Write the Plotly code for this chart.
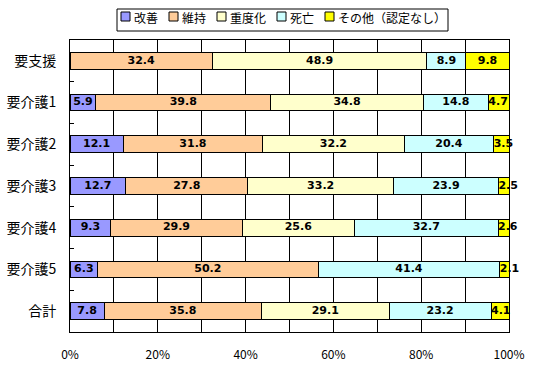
import plotly.graph_objects as go

categories = ['要支援', '要介護1', '要介護2', '要介護3', '要介護4', '要介護5', '合計']
series_names = ['改善', '維持', '重度化', '死亡', 'その他（認定なし）']
kaizen = [None, 5.9, 12.1, 12.7, 9.3, 6.3, 7.8]
iji = [32.4, 39.8, 31.8, 27.8, 29.9, 50.2, 35.8]
judoka = [48.9, 34.8, 32.2, 33.2, 25.6, None, 29.1]
shibo = [8.9, 14.8, 20.4, 23.9, 32.7, 41.4, 23.2]
sonota = [9.8, 4.7, 3.5, 2.5, 2.6, 2.1, 4.1]
x_tickvals = [0, 20, 40, 60, 80, 100]
x_ticktext = ['0%', '20%', '40%', '60%', '80%', '100%']

series = [kaizen, iji, judoka, shibo, sonota]
colors = ['#9999FF', '#FFCC99', '#FFFFCC', '#CCFFFF', '#FFFF00']

# plot area in pixels
W, H = 534, 366
L, R, T, B = 70, 25, 40, 34
PW, PH = W - L - R, H - T - B

fig = go.Figure()
for name, vals, col in zip(series_names, series, colors):
    fig.add_trace(go.Bar(
        y=categories, x=[v if v is not None else 0 for v in vals], orientation='h',
        name=name, marker=dict(color=col, line=dict(color='black', width=1)),
        showlegend=False, hoverinfo='skip'))

# value labels
tx, ty, tt, tp = [], [], [], []
for i, cat in enumerate(categories):
    start = 0.0
    for vals in series:
        v = vals[i]
        if v is None:
            continue
        if v < 5:
            tx.append(start); tp.append('middle right')
        else:
            tx.append(start + v / 2); tp.append('middle center')
        ty.append(cat); tt.append(f'{v:.1f}')
        start += v
fig.add_trace(go.Scatter(
    x=tx, y=ty, text=tt, mode='text', textposition=tp,
    textfont=dict(family='DejaVu Sans', size=11, color='black', weight='bold'),
    showlegend=False, hoverinfo='skip', cliponaxis=False))

# custom compact legend
def px2x(p):
    return (p - L) / PW

def py2y(p):
    return (H - B - p) / PH

lg_font = 12
shapes = [dict(type='rect', xref='paper', yref='paper',
               x0=px2x(117), x1=px2x(448), y0=py2y(31), y1=py2y(9),
               line=dict(color='black', width=1), fillcolor='white', layer='above')]
annotations = []
cur = 121
for name, col in zip(series_names, colors):
    shapes.append(dict(type='rect', xref='paper', yref='paper',
                       x0=px2x(cur), x1=px2x(cur + 9), y0=py2y(21), y1=py2y(12),
                       line=dict(color='black', width=1), fillcolor=col, layer='above'))
    annotations.append(dict(xref='paper', yref='paper', x=px2x(cur + 11), y=py2y(18),
                            text=name, showarrow=False, xanchor='left', yanchor='middle',
                            font=dict(family='Noto Sans CJK JP', size=lg_font, color='black')))
    cur += 12 + len(name) * lg_font + 12

fig.update_layout(
    barmode='stack', bargap=0.6,
    width=W, height=H,
    margin=dict(l=L, r=R, t=T, b=B, pad=0, autoexpand=False),
    paper_bgcolor='white', plot_bgcolor='white',
    font=dict(family='Noto Sans CJK JP', color='black'),
    shapes=shapes, annotations=annotations,
    xaxis=dict(range=[0, 100], tickmode='array', tickvals=x_tickvals, ticktext=x_ticktext,
               showgrid=True, gridcolor='black', gridwidth=1, zeroline=False,
               minor=dict(dtick=10, showgrid=True, gridcolor='black', gridwidth=1),
               showline=True, linecolor='black', linewidth=1, mirror=True,
               ticks='outside', ticklen=0, ticklabelstandoff=12, tickfont=dict(size=12),
               automargin=False),
    yaxis=dict(autorange='reversed', showgrid=False, showline=True, linecolor='black',
               linewidth=1, mirror=True, ticks='inside', tickson='boundaries', ticklen=4,
               tickcolor='black', ticklabelstandoff=10, tickfont=dict(size=14),
               automargin=False),
)
fig.write_html('out.html', config={'displayModeBar': False},
               post_script="document.body.style.margin='0px';document.body.style.overflow='hidden';")
